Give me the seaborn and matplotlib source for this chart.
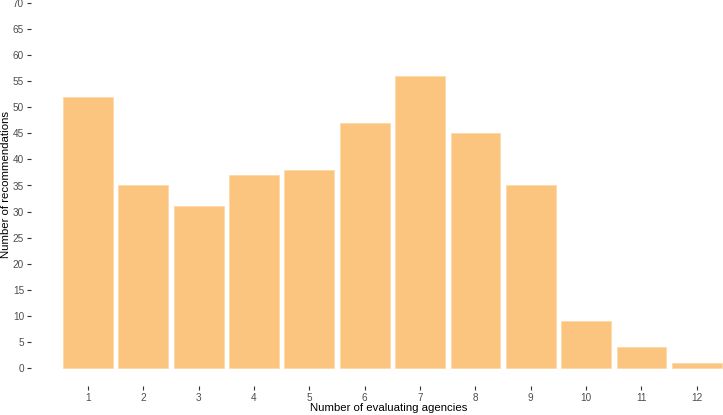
import matplotlib
matplotlib.use("Agg")
import matplotlib.pyplot as plt
import seaborn as sns
import pandas as pd

# data
agencies = ["1", "2", "3", "4", "5", "6", "7", "8", "9", "10", "11", "12"]
recommendations = [52, 35, 31, 37, 38, 47, 56, 45, 35, 9, 4, 1]
y_ticks = list(range(0, 75, 5))

df = pd.DataFrame({"agencies": agencies, "n": recommendations})

sns.set_style("white")
plt.rcParams["font.family"] = ["Liberation Sans", "DejaVu Sans"]

W, H = 723, 415
fig = plt.figure(figsize=(W / 100, H / 100), dpi=100)
# axes placed in pixels (panel runs a bit past the top/right like the original crop)
left, right, bottom, top = 31, 730, 386, -15
ax = fig.add_axes([left / W, 1 - bottom / H, (right - left) / W, (bottom - top) / H])

sns.barplot(data=df, x="agencies", y="n", color="#FBC47F", saturation=1,
            width=0.9, ax=ax, edgecolor="#FDD9A8", linewidth=0.6)

ax.set_xlim(-1.03, 11.6)
ax.set_ylim(-3.5, 73.5)
ax.set_yticks(y_ticks)
ax.set_yticklabels([str(v) for v in y_ticks])
for s in ax.spines.values():
    s.set_visible(False)
ax.tick_params(axis="both", length=3, width=0.8, color="#333333",
               labelsize=7.2, labelcolor="#4D4D4D", pad=2, direction="out")
ax.tick_params(axis="y", left=True)
ax.tick_params(axis="x", bottom=True)
ax.set_xlabel("Number of evaluating agencies", fontsize=8.2, color="black")
ax.set_ylabel("Number of recommendations", fontsize=8.2, color="black")
ax.xaxis.set_label_coords(389 / W, 1 - 408 / H, transform=fig.transFigure)
ax.yaxis.set_label_coords(6 / W, 1 - 185 / H, transform=fig.transFigure)
ax.xaxis.label.set_va("center")
ax.yaxis.label.set_va("center")
ax.grid(False)

fig.savefig("out.png", dpi=100)
